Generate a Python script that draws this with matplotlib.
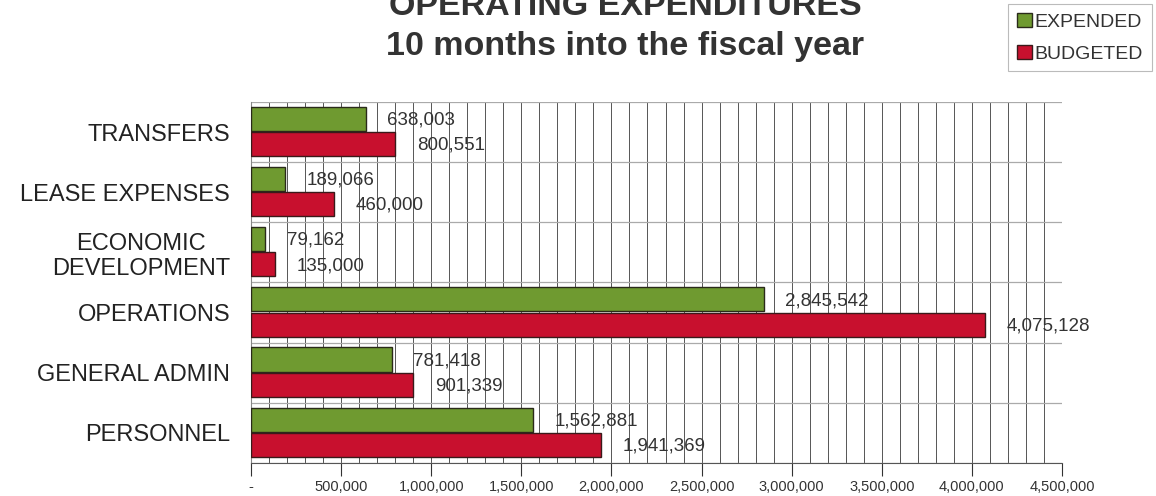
import matplotlib.pyplot as plt
import numpy as np
from matplotlib.ticker import MultipleLocator, FuncFormatter

plt.rcParams['font.family'] = ['Liberation Sans', 'DejaVu Sans']

# donnees
categories = ['PERSONNEL', 'GENERAL ADMIN', 'OPERATIONS',
              'ECONOMIC\nDEVELOPMENT', 'LEASE EXPENSES', 'TRANSFERS']
expended = [1562881, 781418, 2845542, 79162, 189066, 638003]
budgeted = [1941369, 901339, 4075128, 135000, 460000, 800551]

vert = '#6f9a30'
rouge = '#c8102e'

fig = plt.figure(figsize=(11.56, 4.96), dpi=100)
ax = fig.add_axes([0.2171, 0.0665, 0.7016, 0.728])

y = np.arange(len(categories))
h = 0.4
ax.barh(y + 0.22, expended, height=h, color=vert, edgecolor='#2a2a1a', linewidth=1.0, label='EXPENDED', zorder=3)
ax.barh(y - 0.2, budgeted, height=h, color=rouge, edgecolor='#3a1a1a', linewidth=1.0, label='BUDGETED', zorder=3)

# etiquettes des valeurs
for i in range(len(categories)):
    ax.annotate(f'{expended[i]:,}', (expended[i], y[i] + 0.2), xytext=(15.5, 0),
                textcoords='offset points', ha='left', va='center', fontsize=13.5, color='#333333')
    ax.annotate(f'{budgeted[i]:,}', (budgeted[i], y[i] - 0.22), xytext=(15.5, 0),
                textcoords='offset points', ha='left', va='center', fontsize=13.5, color='#333333')

ax.set_xlim(0, 4500000)
ax.set_ylim(-0.5, len(categories) - 0.5)
ax.xaxis.set_major_locator(MultipleLocator(500000))
ax.xaxis.set_minor_locator(MultipleLocator(100000))
ax.xaxis.set_major_formatter(FuncFormatter(lambda v, p: '-' if v == 0 else f'{int(v):,}'))
ax.set_yticks(y)
ax.set_yticklabels(categories, fontsize=17, multialignment='center', color='#222222')
ax.set_yticks(np.arange(-0.5, len(categories), 0.5), minor=True)
ax.tick_params(axis='x', labelsize=10.5, length=9, width=0.8, pad=3, colors='#333333')
ax.tick_params(axis='x', which='minor', length=4, direction='in', color='#555555')
ax.tick_params(axis='y', length=0, pad=15)
ax.tick_params(axis='y', which='minor', length=0)

ax.grid(True, which='both', axis='x', color='#555555', linewidth=0.7, zorder=0)
ax.grid(True, which='minor', axis='y', color='#aaaaaa', linewidth=0.9, zorder=0)
for s in ['top', 'right']:
    ax.spines[s].set_visible(False)
ax.spines['left'].set_color('#888888')
ax.spines['bottom'].set_color('#555555')

fig.text(0.5407, 0.970, 'OPERATING EXPENDITURES', ha='center', va='baseline',
         fontsize=24.5, fontweight='bold', color='#333333')
fig.text(0.5407, 0.889, '10 months into the fiscal year', ha='center', va='baseline',
         fontsize=24.5, fontweight='bold', color='#333333')

leg = fig.legend(loc='upper right', bbox_to_anchor=(0.998, 0.995), fontsize=14,
                 handlelength=0.75, handleheight=0.75, handletextpad=0.15, borderaxespad=0.1,
                 fancybox=False, edgecolor='#aaaaaa', borderpad=0.45, labelspacing=0.7)
leg.get_frame().set_linewidth(0.8)
for t in leg.get_texts():
    t.set_color('#333333')

fig.savefig('out.png', dpi=100)
